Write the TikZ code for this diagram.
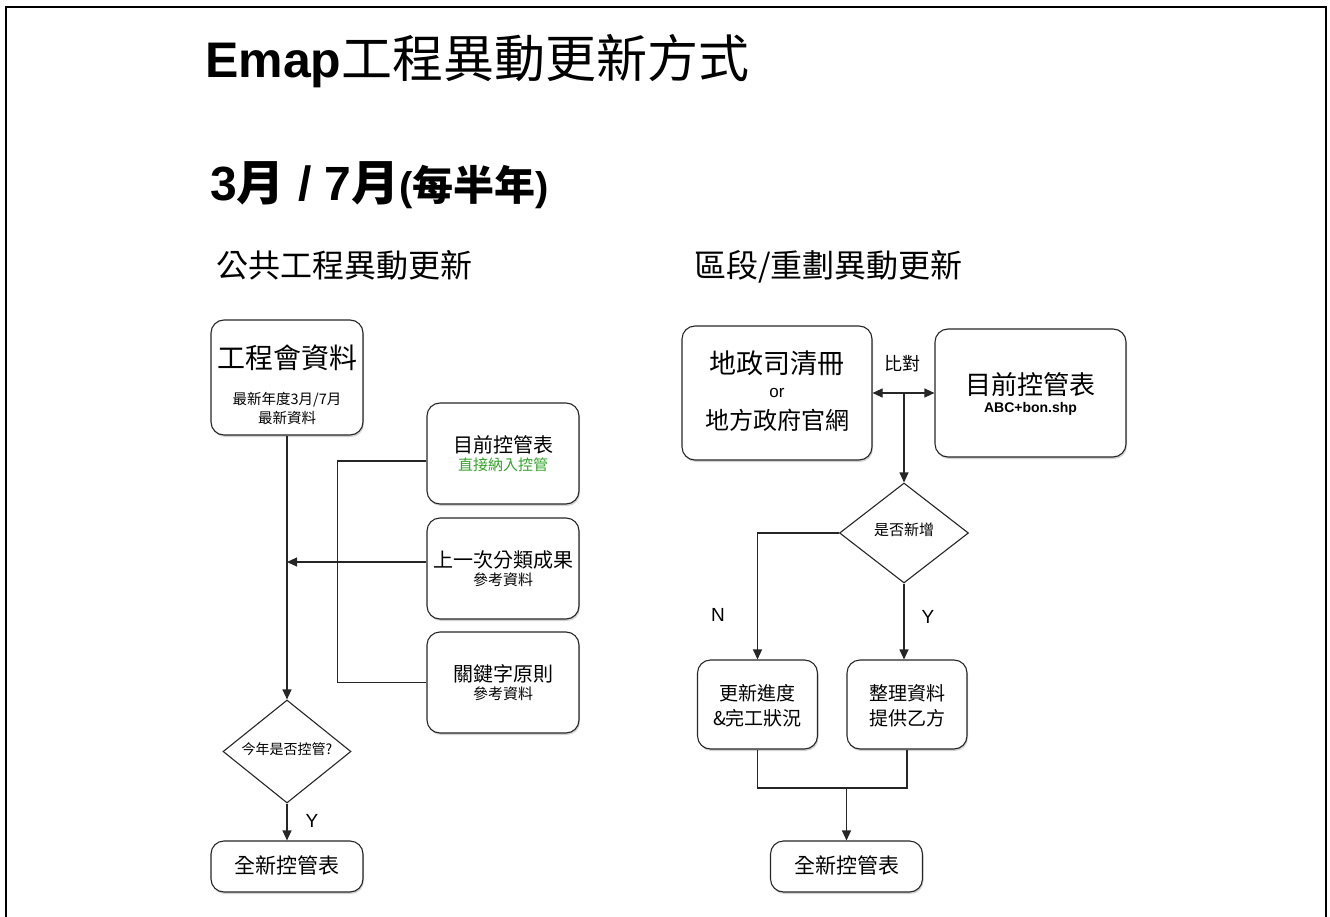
\documentclass[tikz,border=0pt]{standalone}
\usepackage{fontspec}
\setmainfont{Liberation Sans}
\newfontfamily\cjk{Noto Sans CJK TC}
\usetikzlibrary{shapes.geometric,arrows.meta,shadows}
\newcommand\fsz[1]{\fontsize{#1}{#1}\selectfont}
\definecolor{okgreen}{RGB}{50,165,40}
\begin{document}
\begin{tikzpicture}[x=1pt,y=-1pt,
  box/.style={draw=black!85, line width=1.1pt, rounded corners=13pt, fill=white,
    drop shadow={shadow xshift=1pt,shadow yshift=-2pt,opacity=0.35}, inner sep=0pt},
  dia/.style={draw=black!85, line width=1.1pt, diamond, fill=white, inner sep=0pt},
  txt/.style={inner sep=0pt, align=center, font=\cjk},
  conn/.style={draw=black!85, line width=1.1pt},
  arr/.style={conn, -{Triangle[length=10pt,width=9pt]}},
  darr/.style={conn, {Triangle[length=10pt,width=9pt]}-{Triangle[length=10pt,width=9pt]}}]
\useasboundingbox (0,0) rectangle (1330,917);
\draw[line width=2pt] (6,920) -- (6,7) -- (1326,7) -- (1326,920);

% titles
\node[txt, anchor=base west] (title) at (205,78) {{\rmfamily\bfseries\fsz{50}Emap}{\fsz{51}工程異動更新方式}};
\node[txt, anchor=base west] (sub) at (210,201) {{\rmfamily\bfseries\fsz{48}3}{\bfseries\fsz{48}月}{\rmfamily\bfseries\fsz{48}\ /\ 7}{\bfseries\fsz{48}月}{\rmfamily\bfseries\fsz{40}(}{\bfseries\fsz{41}每半年}{\rmfamily\bfseries\fsz{40})}};
\node[txt, anchor=base west] (h1) at (216,277) {\fsz{32}公共工程異動更新};
\node[txt, anchor=base west] (h2) at (694,277) {\fsz{32}區段/重劃異動更新};

% left flow
\node[box, minimum width=152pt, minimum height=115pt] (A) at (287,377.5) {};
\node[txt] (At1) at (287,358) {\fsz{28}工程會資料};
\node[txt] (At2) at (287,400) {\fsz{14.5}最新年度3月/7月};
\node[txt] (At3) at (287,418) {\fsz{14.5}最新資料};

\node[box, minimum width=152pt, minimum height=101pt] (B1) at (503,453.5) {};
\node[txt] (B1t1) at (503,445) {\fsz{20}目前控管表};
\node[txt, text=okgreen] (B1t2) at (503,465) {\fsz{15}直接納入控管};

\node[box, minimum width=152pt, minimum height=101pt] (B2) at (503,568.5) {};
\node[txt] (B2t1) at (503,560) {\fsz{20}上一次分類成果};
\node[txt] (B2t2) at (503,580) {\fsz{15}參考資料};

\node[box, minimum width=152pt, minimum height=101pt] (B3) at (503,682.5) {};
\node[txt] (B3t1) at (503,674) {\fsz{20}關鍵字原則};
\node[txt] (B3t2) at (503,694) {\fsz{15}參考資料};

\node[dia, minimum width=128pt, minimum height=103pt] (Q1) at (287,751.5) {};
\node[txt] (Q1t) at (287,749) {\fsz{14}今年是否控管?};

\node[box, minimum width=152pt, minimum height=51pt] (E1) at (287,866.5) {};
\node[txt] (E1t) at (287,865) {\fsz{21}全新控管表};

\draw[arr] (A.south) -- (Q1.north);
\draw[arr] (Q1.south) -- (E1.north);
\node[txt, font=\rmfamily\fsz{19}] (Y1) at (312,821) {Y};
\draw[conn] ([yshift=-7.5pt]B1.west) -- ++(-89,0) |- (B3.west);
\draw[arr] ([yshift=6.5pt]B2.west) -- ([yshift=6.5pt]B2.west -| A.south);

% right flow
\node[box, minimum width=190pt, minimum height=134pt] (C1) at (777,393) {};
\node[txt] (C1t1) at (777,363) {\fsz{27}地政司清冊};
\node[txt, font=\rmfamily\fsz{17}] (C1t2) at (777,393) {or};
\node[txt] (C1t3) at (777,420) {\fsz{24}地方政府官網};

\node[box, minimum width=191pt, minimum height=128pt] (C2) at (1030.5,393) {};
\node[txt] (C2t1) at (1030.5,385) {\fsz{26}目前控管表};
\node[txt, font=\rmfamily\bfseries\fsz{14}] (C2t2) at (1030.5,409) {ABC+bon.shp};

\node[txt] (cmp) at (902,364) {\fsz{18}比對};
\draw[darr] (C1.east) -- (C2.west);
\coordinate (m) at (904,393);

\node[dia, minimum width=129pt, minimum height=100pt] (Q2) at (904,533) {};
\node[txt] (Q2t) at (904,530) {\fsz{15}是否新增};
\draw[arr] (m) -- (Q2.north);

\node[box, minimum width=120pt, minimum height=89pt] (D1) at (757.5,704.5) {};
\node[txt] (D1t1) at (757.5,693) {\fsz{19}更新進度};
\node[txt] (D1t2) at (757.5,718) {\fsz{19}\&完工狀況};

\node[box, minimum width=120pt, minimum height=89pt] (D2) at (907,704.5) {};
\node[txt] (D2t1) at (907,693) {\fsz{19}整理資料};
\node[txt] (D2t2) at (907,718) {\fsz{19}提供乙方};

\node[box, minimum width=152pt, minimum height=51pt] (E2) at (846.5,866.5) {};
\node[txt] (E2t) at (846.5,865) {\fsz{21}全新控管表};

\draw[arr] (Q2.west) -| (D1.north);
\draw[arr] (Q2.south) -- (Q2.south |- D2.north);
\node[txt, font=\rmfamily\fsz{19}] (Nl) at (718,615) {N};
\node[txt, font=\rmfamily\fsz{19}] (Yl) at (928,617) {Y};
\coordinate (j) at (846.5,788);
\draw[conn] (D1.south) |- (j) -| (D2.south);
\draw[arr] (j) -- (E2.north);
\end{tikzpicture}
\end{document}
